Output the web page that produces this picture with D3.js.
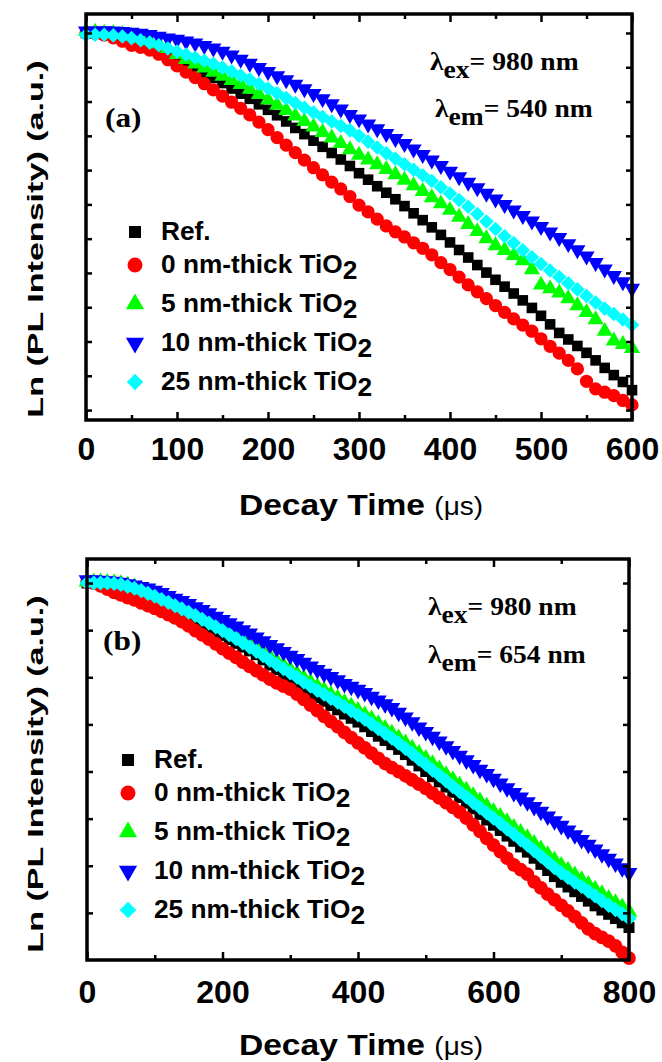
<!DOCTYPE html>
<html>
<head>
<meta charset="utf-8">
<script src="https://cdn.jsdelivr.net/npm/d3@7"></script>
<style>
  body { margin: 0; background: #fff; }
  svg { display: block; }
</style>
</head>
<body>
<div id="viz"></div>
<script>
// ---- panel (a): em 540 nm, time in us, Ln(PL) relative to t=0 ----
var timeA = [0,10,20,30,40,50,60,70,80,90,100,110,120,130,140,150,160,170,180,190,
  200,210,220,230,240,250,260,270,280,290,300,310,320,330,340,350,360,370,380,390,
  400,410,420,430,440,450,460,470,480,490,500,510,520,530,540,550,560,570,580,590,600];
var refA = [0,-0.01,-0.04,-0.08,-0.13,-0.19,-0.27,-0.37,-0.48,-0.60,
  -0.74,-0.88,-1.03,-1.18,-1.31,-1.46,-1.62,-1.77,-1.92,-2.08,
  -2.24,-2.40,-2.58,-2.77,-2.95,-3.14,-3.32,-3.50,-3.69,-3.88,
  -4.09,-4.28,-4.47,-4.66,-4.85,-5.05,-5.26,-5.46,-5.67,-5.89,
  -6.11,-6.33,-6.55,-6.77,-6.99,-7.20,-7.40,-7.60,-7.80,-8.02,
  -8.25,-8.50,-8.75,-8.94,-9.13,-9.33,-9.55,-9.77,-9.98,-10.18,-10.42];
var tio0A = [0,-0.02,-0.06,-0.14,-0.24,-0.36,-0.42,-0.50,-0.62,-0.78,
  -0.96,-1.14,-1.30,-1.48,-1.66,-1.84,-2.02,-2.20,-2.39,-2.60,
  -2.82,-3.05,-3.27,-3.49,-3.71,-3.93,-4.14,-4.35,-4.55,-4.77,
  -5.02,-5.22,-5.43,-5.63,-5.80,-5.95,-6.12,-6.28,-6.47,-6.70,
  -6.90,-7.12,-7.35,-7.55,-7.75,-7.95,-8.15,-8.34,-8.52,-8.70,
  -8.92,-9.14,-9.34,-9.55,-9.80,-10.16,-10.38,-10.48,-10.58,-10.72,-10.85];
var tio5A = [0.05,0.03,0.00,-0.01,-0.04,-0.08,-0.14,-0.22,-0.31,-0.45,
  -0.62,-0.77,-0.90,-1.02,-1.14,-1.26,-1.38,-1.50,-1.64,-1.79,
  -1.95,-2.10,-2.26,-2.42,-2.58,-2.74,-2.90,-3.06,-3.22,-3.40,
  -3.56,-3.70,-3.84,-3.98,-4.13,-4.29,-4.45,-4.62,-4.80,-4.98,
  -5.17,-5.37,-5.58,-5.79,-6.00,-6.20,-6.34,-6.49,-6.64,-6.90,
  -7.35,-7.46,-7.58,-7.75,-7.95,-8.15,-8.36,-8.70,-8.98,-9.08,-9.20];
var tio10A = [0.05,0.05,0.06,0.05,0.04,0.02,-0.01,-0.05,-0.10,-0.15,
  -0.19,-0.24,-0.30,-0.37,-0.44,-0.54,-0.65,-0.77,-0.89,-1.01,
  -1.13,-1.25,-1.37,-1.50,-1.63,-1.77,-1.92,-2.07,-2.22,-2.38,
  -2.51,-2.66,-2.80,-2.94,-3.08,-3.23,-3.39,-3.55,-3.71,-3.87,
  -4.04,-4.20,-4.36,-4.52,-4.68,-4.85,-5.01,-5.17,-5.33,-5.49,
  -5.65,-5.81,-5.97,-6.15,-6.33,-6.51,-6.70,-6.89,-7.08,-7.26,-7.45];
var tio25A = [-0.06,-0.05,-0.05,-0.07,-0.10,-0.15,-0.21,-0.28,-0.36,-0.45,
  -0.54,-0.63,-0.72,-0.81,-0.90,-1.01,-1.12,-1.24,-1.36,-1.49,
  -1.62,-1.76,-1.90,-2.04,-2.18,-2.32,-2.45,-2.58,-2.71,-2.84,
  -3.00,-3.17,-3.34,-3.51,-3.67,-3.83,-3.99,-4.15,-4.32,-4.50,
  -4.68,-4.87,-5.07,-5.28,-5.50,-5.72,-5.93,-6.13,-6.34,-6.54,
  -6.74,-6.93,-7.12,-7.30,-7.48,-7.67,-7.86,-8.04,-8.20,-8.36,-8.52];

// ---- panel (b): em 654 nm ----
var timeB = [0,10,20,30,40,50,60,70,80,90,100,110,120,130,140,150,160,170,180,190,
  200,210,220,230,240,250,260,270,280,290,300,310,320,330,340,350,360,370,380,390,
  400,410,420,430,440,450,460,470,480,490,500,510,520,530,540,550,560,570,580,590,
  600,610,620,630,640,650,660,670,680,690,700,710,720,730,740,750,760,770,780,790,800];
var refB = [0,0,-0.01,-0.02,-0.04,-0.07,-0.10,-0.14,-0.19,-0.24,
  -0.30,-0.36,-0.43,-0.50,-0.58,-0.66,-0.75,-0.84,-0.94,-1.03,
  -1.11,-1.20,-1.28,-1.36,-1.44,-1.52,-1.63,-1.74,-1.84,-1.94,
  -2.04,-2.14,-2.24,-2.34,-2.43,-2.51,-2.60,-2.69,-2.78,-2.87,
  -2.95,-3.05,-3.15,-3.25,-3.34,-3.43,-3.53,-3.64,-3.76,-3.88,
  -4.00,-4.11,-4.22,-4.33,-4.44,-4.55,-4.67,-4.79,-4.91,-5.03,
  -5.14,-5.25,-5.37,-5.48,-5.60,-5.71,-5.84,-5.97,-6.10,-6.23,
  -6.35,-6.45,-6.55,-6.65,-6.75,-6.85,-6.94,-7.03,-7.12,-7.21,-7.31];
var tio0B = [0.02,0,-0.06,-0.13,-0.20,-0.25,-0.31,-0.36,-0.42,-0.48,
  -0.54,-0.60,-0.67,-0.74,-0.82,-0.91,-1.01,-1.10,-1.19,-1.29,
  -1.39,-1.49,-1.58,-1.68,-1.77,-1.86,-1.95,-2.04,-2.12,-2.19,
  -2.25,-2.36,-2.47,-2.59,-2.71,-2.83,-2.94,-3.05,-3.17,-3.28,
  -3.39,-3.50,-3.61,-3.72,-3.83,-3.92,-4.00,-4.09,-4.18,-4.27,
  -4.36,-4.46,-4.56,-4.66,-4.76,-4.86,-4.99,-5.13,-5.27,-5.42,
  -5.56,-5.70,-5.84,-5.98,-6.08,-6.18,-6.34,-6.47,-6.60,-6.72,
  -6.84,-6.96,-7.08,-7.21,-7.34,-7.44,-7.52,-7.60,-7.70,-7.84,-7.96];
var tio5B = [0.03,0.02,0.02,0.01,0,-0.02,-0.05,-0.09,-0.14,-0.19,
  -0.25,-0.31,-0.37,-0.44,-0.51,-0.58,-0.65,-0.72,-0.80,-0.88,
  -0.96,-1.04,-1.12,-1.21,-1.30,-1.39,-1.48,-1.57,-1.66,-1.75,
  -1.84,-1.93,-2.02,-2.11,-2.20,-2.28,-2.37,-2.45,-2.54,-2.62,
  -2.71,-2.80,-2.89,-2.99,-3.09,-3.19,-3.29,-3.40,-3.51,-3.62,
  -3.73,-3.84,-3.95,-4.07,-4.18,-4.29,-4.40,-4.52,-4.63,-4.74,
  -4.85,-4.96,-5.07,-5.19,-5.30,-5.41,-5.53,-5.65,-5.77,-5.88,
  -6.00,-6.10,-6.20,-6.30,-6.40,-6.50,-6.60,-6.70,-6.79,-6.88,-6.98];
var tio10B = [0.06,0.06,0.05,0.04,0.03,0.01,-0.02,-0.05,-0.08,-0.11,
  -0.16,-0.21,-0.27,-0.33,-0.38,-0.44,-0.51,-0.57,-0.64,-0.71,
  -0.78,-0.85,-0.92,-1.00,-1.07,-1.15,-1.23,-1.31,-1.38,-1.46,
  -1.54,-1.61,-1.69,-1.77,-1.84,-1.92,-1.99,-2.06,-2.14,-2.20,
  -2.26,-2.33,-2.41,-2.49,-2.57,-2.65,-2.75,-2.85,-2.95,-3.06,
  -3.16,-3.26,-3.36,-3.46,-3.56,-3.66,-3.76,-3.86,-3.96,-4.05,
  -4.15,-4.25,-4.35,-4.45,-4.55,-4.65,-4.75,-4.85,-4.95,-5.05,
  -5.15,-5.25,-5.35,-5.45,-5.55,-5.65,-5.75,-5.85,-5.95,-6.05,-6.15];
var tio25B = [0,0,0,0,-0.01,-0.03,-0.07,-0.11,-0.16,-0.22,
  -0.28,-0.35,-0.41,-0.48,-0.55,-0.62,-0.69,-0.77,-0.85,-0.93,
  -1.01,-1.10,-1.18,-1.27,-1.36,-1.45,-1.54,-1.64,-1.73,-1.82,
  -1.91,-2.00,-2.10,-2.19,-2.28,-2.36,-2.45,-2.53,-2.62,-2.71,
  -2.80,-2.89,-2.99,-3.09,-3.19,-3.29,-3.40,-3.51,-3.62,-3.74,
  -3.85,-3.97,-4.08,-4.20,-4.32,-4.43,-4.54,-4.66,-4.77,-4.88,
  -4.99,-5.10,-5.22,-5.33,-5.45,-5.56,-5.68,-5.80,-5.92,-6.04,
  -6.15,-6.25,-6.35,-6.44,-6.54,-6.64,-6.74,-6.84,-6.93,-7.02,-7.12];

var seriesLabels = ["Ref.", "0 nm-thick TiO", "5 nm-thick TiO", "10 nm-thick TiO", "25 nm-thick TiO"];
var seriesColors = ["#000000", "#ff0000", "#00ff00", "#0000ff", "#00ffff"];
var xLabelsA = [0, 100, 200, 300, 400, 500, 600];
var xLabelsB = [0, 200, 400, 600, 800];

var sans = "'Liberation Sans', Arial, sans-serif";
var serif = "'Liberation Serif', 'Times New Roman', serif";

var svg = d3.select("#viz").append("svg")
  .attr("width", 662)
  .attr("height", 1062);

// marker shapes: square, circle, triangle up, triangle down, diamond
function marker(i, k) {
  var types = [d3.symbolSquare, d3.symbolCircle, d3.symbolTriangle, d3.symbolTriangle, d3.symbolSquare];
  var sizes = [90, 110, 90, 90, 85];
  return d3.symbol().type(types[i]).size(sizes[i] * k)();
}
var markerRot = ["", "", "", " rotate(180)", " rotate(45)"];

function drawPanel(p) {
  var x = d3.scaleLinear().domain(p.xDomain).range([p.left, p.right]);
  var y = d3.scaleLinear().domain(p.yDomain).range([p.bottom, p.top]);
  var g = svg.append("g");

  // data markers
  p.series.forEach(function(vals, i) {
    g.append("g").selectAll("path")
      .data(vals)
      .join("path")
      .attr("d", marker(i, p.mk))
      .attr("transform", function(d, j) {
        return "translate(" + x(p.time[j]) + "," + y(d) + ")" + markerRot[i];
      })
      .attr("fill", seriesColors[i]);
  });

  // axes: inward ticks on all four sides
  var xb = g.append("g").attr("transform", "translate(0," + p.bottom + ")")
    .call(d3.axisBottom(x).tickValues(p.xLabels).tickSize(-8).tickPadding(p.labelPad).tickFormat(d3.format("d")));
  xb.attr("font-family", sans).attr("font-size", 32).attr("font-weight", "bold");
  g.append("g").attr("transform", "translate(0," + p.bottom + ")")
    .call(d3.axisBottom(x).tickValues(p.xMinor).tickSize(-5).tickFormat(""));
  g.append("g").attr("transform", "translate(0," + p.top + ")")
    .call(d3.axisTop(x).tickValues(p.xLabels).tickSize(-8).tickFormat(""));
  g.append("g").attr("transform", "translate(0," + p.top + ")")
    .call(d3.axisTop(x).tickValues(p.xMinor).tickSize(-5).tickFormat(""));
  g.append("g").attr("transform", "translate(" + p.left + ",0)")
    .call(d3.axisLeft(y).tickValues(p.yTicks).tickSize(-6).tickFormat(""));
  g.append("g").attr("transform", "translate(" + p.right + ",0)")
    .call(d3.axisRight(y).tickValues(p.yTicks).tickSize(-6).tickFormat(""));
  g.selectAll(".domain").remove();
  g.selectAll(".tick line").attr("stroke", "#000").attr("stroke-width", 2.5);
  g.selectAll(".tick text").attr("fill", "#000");

  g.append("rect")
    .attr("x", p.left).attr("y", p.top)
    .attr("width", p.right - p.left).attr("height", p.bottom - p.top)
    .attr("fill", "none").attr("stroke", "#000").attr("stroke-width", 3.5);

  // axis titles
  var xt = g.append("text")
    .attr("transform", "translate(" + p.xTitleX + "," + (p.bottom + 95) + ") scale(1.12,1)")
    .attr("text-anchor", "middle")
    .attr("font-family", sans).attr("font-weight", "bold").attr("font-size", 30);
  xt.append("tspan").text("Decay Time ");
  xt.append("tspan").attr("font-size", 25).attr("font-weight", "normal").text("(\u03bcs)");

  g.append("text")
    .attr("transform", "translate(43," + p.yTitleY + ") rotate(-90) scale(1.55,1)")
    .attr("text-anchor", "middle")
    .attr("font-family", sans).attr("font-weight", "bold").attr("font-size", 22)
    .text("Ln (PL Intensity) (a.u.)");

  // legend (rows with subscripts sit a little further apart)
  seriesLabels.forEach(function(name, i) {
    var cy = p.legRows[i];
    g.append("path")
      .attr("d", marker(i, 1.6))
      .attr("transform", "translate(" + p.legX + "," + cy + ")" + markerRot[i])
      .attr("fill", seriesColors[i]);
    var t = g.append("text")
      .attr("transform", "translate(" + p.legTextX + "," + (cy + 8) + ") scale(1.05,1)")
      .attr("font-family", sans).attr("font-weight", "bold").attr("font-size", 25);
    t.append("tspan").text(name);
    if (i > 0) t.append("tspan").attr("dy", 6).text("2");
  });

  // panel letter and wavelengths
  g.append("text")
    .attr("transform", "translate(" + p.tagX + "," + p.tagY + ") scale(1.12,1)")
    .attr("font-family", serif).attr("font-weight", "bold").attr("font-size", 28)
    .text(p.tag);
  [["ex", "= 980 nm"], ["em", p.emText]].forEach(function(row, k) {
    var t = g.append("text")
      .attr("transform", "translate(" + p.lamX[k] + "," + p.lamY[k] + ") scale(1.06,1)")
      .attr("font-family", serif).attr("font-weight", "bold").attr("font-size", 26);
    t.append("tspan").text("\u03bb");
    t.append("tspan").attr("dy", 8).text(row[0]);
    t.append("tspan").attr("dy", -8).text(row[1]);
  });
}

drawPanel({
  left: 86, right: 632, top: 14, bottom: 420,
  xDomain: [0, 600], yDomain: [-11.29, 0.554],
  time: timeA, series: [refA, tio0A, tio5A, tio10A, tio25A], mk: 1.25,
  xLabels: xLabelsA, xMinor: [50, 150, 250, 350, 450, 550],
  yTicks: [-11, -10, -9, -8, -7, -6, -5, -4, -3, -2, -1, 0],
  labelPad: 17, xTitleX: 361, yTitleY: 239,
  legX: 135, legTextX: 161, legRows: [232, 265, 304, 343, 382],
  tag: "(a)", tagX: 105, tagY: 127,
  lamX: [430, 435], lamY: [70, 117], emText: "= 540 nm"
});

drawPanel({
  left: 87, right: 629, top: 559, bottom: 960,
  xDomain: [0, 800], yDomain: [-8, 0.51],
  time: timeB, series: [refB, tio0B, tio5B, tio10B, tio25B], mk: 1.35,
  xLabels: xLabelsB, xMinor: [100, 300, 500, 700],
  yTicks: [-7, -6, -5, -4, -3, -2, -1, 0],
  labelPad: 20, xTitleX: 361, yTitleY: 774,
  legX: 128, legTextX: 154, legRows: [760, 793, 832, 871, 910],
  tag: "(b)", tagX: 103, tagY: 650,
  lamX: [428, 428], lamY: [615, 663], emText: "= 654 nm"
});
</script>
</body>
</html>
